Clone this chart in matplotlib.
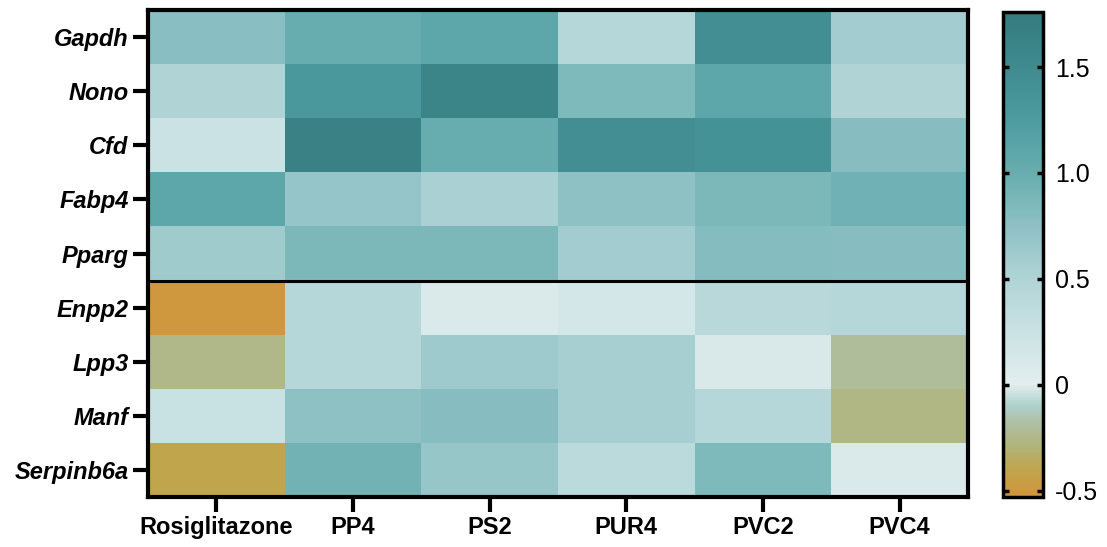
import numpy as np
import matplotlib.pyplot as plt
from matplotlib.colors import LinearSegmentedColormap, Normalize

plt.rcParams['font.family'] = ['Liberation Sans', 'DejaVu Sans']

genes = ['Gapdh', 'Nono', 'Cfd', 'Fabp4', 'Pparg', 'Enpp2', 'Lpp3', 'Manf', 'Serpinb6a']
treatments = ['Rosiglitazone', 'PP4', 'PS2', 'PUR4', 'PVC2', 'PVC4']

gapdh = [0.78, 1.00, 1.10, 0.45, 1.45, 0.60]
nono = [0.50, 1.30, 1.60, 0.85, 1.10, 0.50]
cfd = [0.25, 1.65, 1.00, 1.45, 1.40, 0.80]
fabp4 = [1.10, 0.70, 0.55, 0.75, 0.87, 0.95]
pparg = [0.62, 0.87, 0.87, 0.60, 0.82, 0.80]
enpp2 = [-0.50, 0.45, 0.08, 0.15, 0.42, 0.45]
lpp3 = [-0.25, 0.45, 0.63, 0.57, 0.10, -0.20]
manf = [0.27, 0.75, 0.80, 0.57, 0.45, -0.27]
serpinb6a = [-0.40, 0.93, 0.68, 0.40, 0.85, 0.08]

vmin, vmax = -0.53, 1.76

# gold -> pale -> teal gradient
stops = [(-0.53, '#d4943a'), (-0.40, '#bfa64e'), (-0.28, '#b0b580'),
         (-0.18, '#b0c0a4'), (-0.10, '#aed2cc'), (0.0, '#e2eeee'),
         (0.25, '#cae2e4'), (0.5, '#b0d4d6'), (0.75, '#8ec1c4'),
         (1.0, '#68adb0'), (1.25, '#4e9ca0'), (1.5, '#3f8b8f'), (1.76, '#357a7e')]
cmap = LinearSegmentedColormap.from_list(
    'goldteal', [((v - vmin) / (vmax - vmin), c) for v, c in stops])

data = np.array([gapdh, nono, cfd, fabp4, pparg, enpp2, lpp3, manf, serpinb6a])

fig = plt.figure(figsize=(11.07, 5.47), dpi=100)
ax = fig.add_axes([0.1337, 0.0914, 0.7407, 0.8903])
norm = Normalize(vmin=vmin, vmax=vmax)
mesh = ax.pcolormesh(data, cmap=cmap, norm=norm)
ax.set_xlim(0, len(treatments))
ax.set_ylim(len(genes), 0)

ax.axhline(5, color='black', lw=2.2)

ax.set_xticks(np.arange(len(treatments)) + 0.5)
ax.set_xticklabels(treatments, fontsize=17, fontweight='bold')
ax.set_yticks(np.arange(len(genes)) + 0.5)
ax.set_yticklabels(genes, fontsize=17, fontweight='bold', fontstyle='italic')
ax.tick_params(axis='both', length=11, width=3, pad=3)
for s in ax.spines.values():
    s.set_linewidth(3)

cax = fig.add_axes([0.906, 0.0914, 0.036, 0.8867])
cb = fig.colorbar(mesh, cax=cax)
cb.set_ticks([-0.5, 0, 0.5, 1.0, 1.5])
cb.set_ticklabels(['-0.5', '0', '0.5', '1.0', '1.5'])
cb.outline.set_linewidth(2.5)
cax.tick_params(axis='y', which='both', direction='in', length=4, width=2.5,
                left=True, right=True, labelsize=18, pad=9)

fig.savefig('out.png', dpi=100)
